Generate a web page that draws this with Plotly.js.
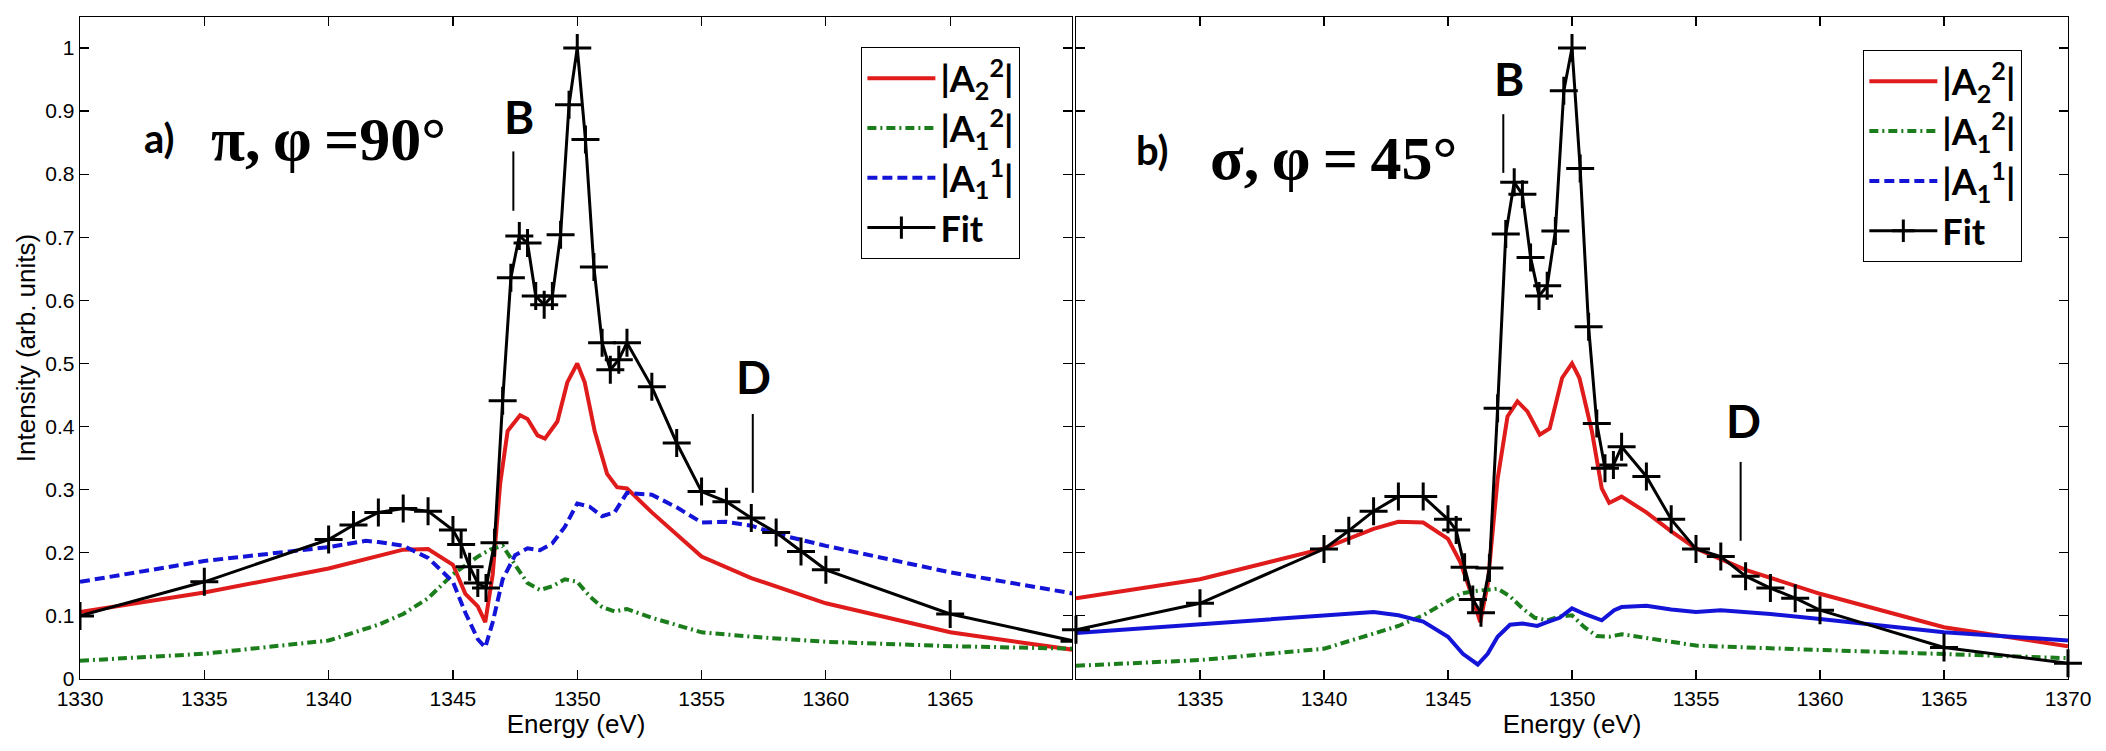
<!DOCTYPE html>
<html>
<head>
<meta charset="utf-8">
<script src="https://cdn.plot.ly/plotly-3.0.1.min.js"></script>
<style>
  body { margin: 0; background: #fff; }
  #chart { width: 2106px; height: 751px; }
</style>
</head>
<body>
<div id="chart"></div>
<script>
// ---- panel a) pi, phi = 90 deg ----
var fitA_E = [1330, 1335, 1340, 1341, 1342, 1343, 1344, 1345, 1345.33, 1345.67, 1346, 1346.33, 1346.67,
  1347, 1347.33, 1347.67, 1348, 1348.33, 1348.67, 1349, 1349.33, 1349.67, 1350, 1350.33, 1350.67,
  1351, 1351.33, 1351.67, 1352, 1353, 1354, 1355, 1356, 1357, 1358, 1359, 1360, 1365, 1370];
var fitA = [0.10, 0.154, 0.221, 0.244, 0.264, 0.27, 0.266, 0.236, 0.213, 0.178, 0.152, 0.144, 0.216,
  0.441, 0.636, 0.702, 0.691, 0.607, 0.593, 0.607, 0.704, 0.91, 1.0, 0.855, 0.653,
  0.533, 0.49, 0.506, 0.533, 0.463, 0.374, 0.297, 0.281, 0.255, 0.232, 0.202, 0.173, 0.103, 0.06];

var a22A_E = [1330, 1335, 1340, 1342, 1343, 1344, 1345, 1345.5, 1346, 1346.3, 1346.6, 1346.9, 1347.2,
  1347.7, 1348, 1348.4, 1348.7, 1349.2, 1349.6, 1350, 1350.3, 1350.7, 1351.2, 1351.6, 1352,
  1353, 1354, 1355, 1357, 1360, 1365, 1370];
var a22A = [0.106, 0.137, 0.175, 0.196, 0.205, 0.206, 0.181, 0.135, 0.115, 0.09, 0.166, 0.31, 0.393,
  0.418, 0.412, 0.386, 0.381, 0.408, 0.47, 0.5, 0.47, 0.393, 0.325, 0.304, 0.302,
  0.264, 0.228, 0.194, 0.16, 0.12, 0.074, 0.046];

var a12A_E = [1330, 1335, 1340, 1342, 1343, 1344, 1345, 1345.5, 1346, 1346.5, 1347, 1347.5, 1348,
  1348.5, 1349, 1349.5, 1350, 1350.5, 1351, 1351.5, 1352, 1353, 1354, 1355, 1357, 1360, 1365, 1370];
var a12A = [0.029, 0.04, 0.061, 0.086, 0.103, 0.128, 0.166, 0.181, 0.194, 0.205, 0.211, 0.181, 0.152,
  0.141, 0.147, 0.158, 0.154, 0.131, 0.114, 0.107, 0.111, 0.097, 0.086, 0.074, 0.067, 0.059, 0.052, 0.048];

var a11A_E = [1330, 1335, 1340, 1341.5, 1342, 1343, 1344, 1345, 1345.5, 1346, 1346.3, 1346.6, 1347,
  1347.5, 1348, 1348.5, 1349, 1349.5, 1350, 1350.5, 1351, 1351.5, 1352, 1353, 1354, 1355, 1356,
  1357, 1358, 1360, 1365, 1370];
var a11A = [0.154, 0.187, 0.209, 0.219, 0.217, 0.211, 0.192, 0.154, 0.105, 0.063, 0.05, 0.09, 0.158,
  0.196, 0.207, 0.204, 0.215, 0.241, 0.278, 0.273, 0.258, 0.264, 0.295, 0.292, 0.272, 0.248, 0.249,
  0.243, 0.23, 0.211, 0.169, 0.135];

// ---- panel b) sigma, phi = 45 deg ----
var fitB_E = fitA_E;
var fitB = [0.078, 0.12, 0.206, 0.235, 0.266, 0.289, 0.289, 0.253, 0.236, 0.177, 0.126, 0.105, 0.176,
  0.429, 0.705, 0.787, 0.768, 0.668, 0.607, 0.623, 0.71, 0.932, 1.0, 0.809, 0.558,
  0.405, 0.334, 0.339, 0.368, 0.321, 0.253, 0.206, 0.194, 0.163, 0.144, 0.128, 0.109, 0.05, 0.025];

var a22B_E = [1330, 1335, 1340, 1342, 1343, 1344, 1345, 1345.5, 1346, 1346.3, 1346.6, 1347, 1347.4,
  1347.8, 1348.2, 1348.7, 1349.1, 1349.6, 1350, 1350.3, 1350.8, 1351.2, 1351.5, 1352,
  1353, 1354, 1355, 1357, 1360, 1365, 1370];
var a22B = [0.128, 0.158, 0.207, 0.238, 0.249, 0.248, 0.222, 0.185, 0.128, 0.09, 0.15, 0.317, 0.416,
  0.44, 0.424, 0.387, 0.397, 0.477, 0.5, 0.477, 0.393, 0.302, 0.279, 0.289,
  0.264, 0.234, 0.207, 0.173, 0.135, 0.082, 0.052];

var a12B_E = [1330, 1335, 1340, 1342, 1343, 1344, 1345, 1345.5, 1346, 1346.5, 1347, 1347.5, 1348,
  1348.5, 1349, 1349.5, 1350, 1350.5, 1351, 1351.5, 1352, 1353, 1355, 1357, 1360, 1365, 1370];
var a12B = [0.021, 0.03, 0.048, 0.071, 0.084, 0.101, 0.124, 0.135, 0.139, 0.141, 0.143, 0.131, 0.112,
  0.097, 0.093, 0.099, 0.101, 0.082, 0.068, 0.067, 0.071, 0.065, 0.053, 0.05, 0.046, 0.039, 0.033];

var a11B_E = [1330, 1335, 1340, 1342, 1343, 1344, 1345, 1345.6, 1346.2, 1346.6, 1347, 1347.5, 1348,
  1348.6, 1349, 1349.5, 1350, 1350.5, 1351.2, 1351.7, 1352, 1353, 1354, 1355, 1356, 1358, 1360,
  1362, 1365, 1370];
var a11B = [0.073, 0.087, 0.101, 0.106, 0.101, 0.091, 0.067, 0.04, 0.023, 0.04, 0.067, 0.086, 0.088,
  0.084, 0.09, 0.097, 0.112, 0.103, 0.093, 0.109, 0.114, 0.116, 0.11, 0.106, 0.109, 0.103, 0.095,
  0.087, 0.074, 0.061];

var names = ['|A<sub>2</sub><sup>2</sup>|', '|A<sub>1</sub><sup>2</sup>|', '|A<sub>1</sub><sup>1</sup>|', 'Fit'];
var xTicksA = [1330, 1335, 1340, 1345, 1350, 1355, 1360, 1365];
var xTicksB = [1335, 1340, 1345, 1350, 1355, 1360, 1365, 1370];

var RED = '#e01b1b', GREEN = '#1b7d1b', BLUE = '#1414d8';
var GREEN_DASH = '9px,4px,2px,4px', BLUE_DASH = '10px,5px';

function curve(x, y, name, color, dash, xa, ya, leg, show) {
  return {
    x: x, y: y, name: name, type: 'scatter', mode: 'lines',
    line: {color: color, width: 4, dash: dash},
    xaxis: xa, yaxis: ya, legend: leg, showlegend: show
  };
}

function fitTrace(x, y, xa, ya, leg, clip) {
  return {
    x: x, y: y, name: names[3], type: 'scatter', mode: 'lines+markers',
    line: {color: 'black', width: 3},
    marker: {symbol: 'cross-thin', size: 20, line: {color: 'black', width: 3}},
    xaxis: xa, yaxis: ya, legend: leg, cliponaxis: clip
  };
}

var data = [
  curve(a22A_E, a22A, names[0], RED, 'solid', 'x', 'y', 'legend', true),
  curve(a12A_E, a12A, names[1], GREEN, GREEN_DASH, 'x', 'y', 'legend', true),
  curve(a11A_E, a11A, names[2], BLUE, BLUE_DASH, 'x', 'y', 'legend', true),
  fitTrace(fitA_E, fitA, 'x', 'y', 'legend', true),

  curve(a22B_E, a22B, names[0], RED, 'solid', 'x2', 'y2', 'legend2', true),
  curve(a12B_E, a12B, names[1], GREEN, GREEN_DASH, 'x2', 'y2', 'legend2', true),
  // the b) panel draws A1^1 solid, but its legend key is dashed
  curve([null], [null], names[2], BLUE, BLUE_DASH, 'x2', 'y2', 'legend2', true),
  curve(a11B_E, a11B, names[2], BLUE, 'solid', 'x2', 'y2', 'legend2', false),
  fitTrace(fitB_E, fitB, 'x2', 'y2', 'legend2', false)
];

var tickFont = {family: 'Liberation Sans, Arial, sans-serif', size: 21, color: 'black'};
var titleFont = {family: 'Liberation Sans, Arial, sans-serif', size: 26, color: 'black'};
var axisBase = {
  showgrid: false, zeroline: false, showline: true, mirror: 'ticks',
  linecolor: 'black', linewidth: 1.3, ticks: 'inside', ticklen: 9, tickwidth: 1.2,
  tickcolor: 'black', tickfont: tickFont
};

function axis(extra) { return Object.assign({}, axisBase, extra); }

var legendBase = {
  bgcolor: 'white', bordercolor: 'black', borderwidth: 1.3,
  font: {family: 'Lato, Open Sans, sans-serif', size: 36, color: 'black', weight: 'bold'},
  itemwidth: 68, xanchor: 'left', yanchor: 'top', tracegroupgap: 0
};

var labelFont = {family: 'Lato, Open Sans, sans-serif', size: 46, color: 'black', weight: 'bold'};
var smallFont = {family: 'Lato, Open Sans, sans-serif', size: 40, color: 'black', weight: 'bold'};
var greekFont = {family: 'Liberation Serif, Times New Roman, serif', size: 62, color: 'black', weight: 'bold'};

function note(xa, ya, x, y, text, font) {
  return {xref: xa, yref: ya, x: x, y: y, text: text, showarrow: false, font: font,
    xanchor: 'center', yanchor: 'middle'};
}
function tick(xa, ya, x, y0, y1) {
  return {type: 'line', xref: xa, yref: ya, x0: x, x1: x, y0: y0, y1: y1,
    line: {color: 'black', width: 2}};
}

var layout = {
  width: 2106, height: 751,
  margin: {l: 80, r: 38, t: 17, b: 72},
  paper_bgcolor: 'white', plot_bgcolor: 'white',
  xaxis: axis({domain: [0, 0.499], range: [1330, 1369.9], tickvals: xTicksA,
    title: {text: 'Energy (eV)', font: titleFont, standoff: 0}}),
  yaxis: axis({domain: [0, 1], range: [0, 1.049], dtick: 0.1, tick0: 0,
    title: {text: 'Intensity (arb. units)', font: titleFont, standoff: 2}}),
  xaxis2: axis({domain: [0.501, 1], range: [1330, 1370], tickvals: xTicksB, anchor: 'y2',
    title: {text: 'Energy (eV)', font: titleFont, standoff: 0}}),
  yaxis2: axis({domain: [0, 1], range: [0, 1.049], dtick: 0.1, tick0: 0, anchor: 'x2', showticklabels: false}),
  legend: Object.assign({}, legendBase, {x: 0.3929, y: 0.9547}),
  legend2: Object.assign({}, legendBase, {x: 0.8969, y: 0.950}),
  annotations: [
    note('x', 'y', 1333.2, 0.858, 'a)', smallFont),
    note('x', 'y', 1340.0, 0.856, 'π,\u2009φ\u2009=90°', greekFont),
    note('x', 'y', 1347.66, 0.891, 'B', labelFont),
    note('x', 'y', 1357.1, 0.48, 'D', labelFont),
    note('x2', 'y2', 1333.1, 0.838, 'b)', smallFont),
    note('x2', 'y2', 1340.4, 0.826, 'σ,\u2009φ\u2009=\u200945°', greekFont),
    note('x2', 'y2', 1347.48, 0.952, 'B', labelFont),
    note('x2', 'y2', 1356.9, 0.409, 'D', labelFont)
  ],
  shapes: [
    tick('x', 'y', 1347.43, 0.742, 0.836),
    tick('x', 'y', 1357.06, 0.295, 0.42),
    tick('x2', 'y2', 1347.23, 0.802, 0.895),
    tick('x2', 'y2', 1356.8, 0.219, 0.344)
  ]
};

Plotly.newPlot('chart', data, layout, {staticPlot: true});
</script>
</body>
</html>
